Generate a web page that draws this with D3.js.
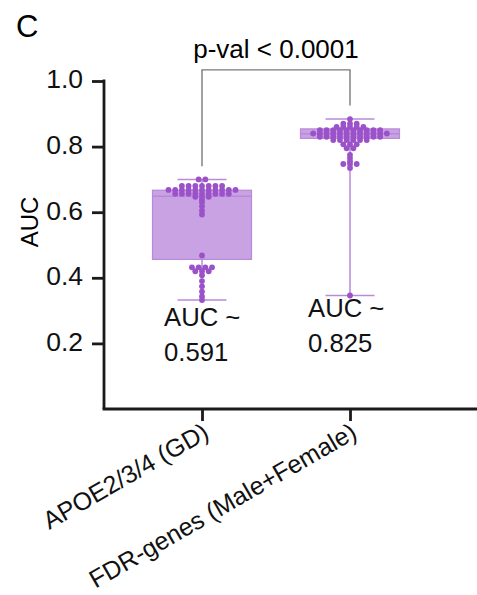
<!DOCTYPE html>
<html>
<head>
<meta charset="utf-8">
<script src="https://d3js.org/d3.v7.min.js"></script>
<style>
  body { margin: 0; background: #fff; }
  svg { display: block; font-family: "Liberation Sans", Arial, Helvetica, sans-serif; }
</style>
</head>
<body>
<svg id="chart"></svg>
<script>
// data
const categories = ["APOE2/3/4 (GD)", "FDR-genes (Male+Female)"];
const yTicks = [0.2, 0.4, 0.6, 0.8, 1.0];

const boxMin = [0.332, 0.346];
const boxQ1 = [0.456, 0.825];
const boxMedian = [0.649, 0.839];
const boxQ3 = [0.667, 0.854];
const boxMax = [0.700, 0.884];

const aucApoe = [
  0.700, 0.700,
  0.680, 0.680, 0.680, 0.680, 0.680, 0.680, 0.680,
  0.668, 0.668, 0.668, 0.668, 0.668, 0.668, 0.668, 0.668, 0.668, 0.668, 0.668,
  0.656, 0.656, 0.656, 0.656, 0.656, 0.656, 0.656, 0.656, 0.656,
  0.647, 0.647, 0.647,
  0.638, 0.630, 0.618, 0.605, 0.593,
  0.468,
  0.432, 0.432, 0.432, 0.432,
  0.420, 0.420, 0.420,
  0.408, 0.390, 0.374, 0.358, 0.343, 0.332
];
const aucFdr = [
  0.884,
  0.870, 0.870, 0.870,
  0.860, 0.860, 0.860, 0.860, 0.860,
  0.850, 0.850, 0.850, 0.850, 0.850, 0.850, 0.850, 0.850, 0.850, 0.850,
  0.840, 0.840, 0.840, 0.840, 0.840, 0.840, 0.840, 0.840, 0.840, 0.840, 0.840, 0.840,
  0.830, 0.830, 0.830, 0.830, 0.830, 0.830, 0.830, 0.830, 0.830, 0.830,
  0.820, 0.820, 0.820, 0.820, 0.820, 0.820,
  0.807, 0.807, 0.807,
  0.795, 0.795,
  0.775, 0.765, 0.755,
  0.747, 0.747, 0.747,
  0.735,
  0.346
];
const aucSummary = ["0.591", "0.825"];
const pValueText = "p-val < 0.0001";

const width = 477, height = 595;
const purpleDot = "#9b52c9";
const purpleFill = "#c8a2e3";
const purpleLine = "#b98ad9";

const svg = d3.select("#chart").attr("width", width).attr("height", height);

const x = d3.scalePoint().domain(categories).range([202, 350]);
const y = d3.scaleLinear().domain([0, 1]).range([409, 81]);

// panel letter
svg.append("text").attr("x", 16).attr("y", 37)
   .style("font-size", "31px").text("C");

// y axis
const yAxis = svg.append("g")
   .attr("transform", "translate(104,0)")
   .call(d3.axisLeft(y).tickValues(yTicks).tickFormat(d3.format(".1f")).tickSize(12).tickPadding(9).tickSizeOuter(0));
yAxis.select(".domain").remove();
yAxis.selectAll(".tick line").attr("stroke", "#1a1a1a").attr("stroke-width", 2.8);
yAxis.selectAll(".tick text").style("font-size", "26.5px").attr("fill", "#111").attr("dy", "0.26em");
svg.append("line").attr("x1", 104).attr("x2", 104).attr("y1", y(1) - 1.4).attr("y2", y(0))
   .attr("stroke", "#1a1a1a").attr("stroke-width", 2.8);

// y label
svg.append("text")
   .attr("transform", `translate(38,${y(0.57)}) rotate(-90)`)
   .attr("text-anchor", "middle")
   .style("font-size", "24px").text("AUC");

// x axis
const xAxis = svg.append("g")
   .attr("transform", `translate(0,${y(0)})`)
   .call(d3.axisBottom(x).tickSize(12).tickSizeOuter(0));
xAxis.select(".domain").remove();
xAxis.selectAll(".tick line").attr("stroke", "#1a1a1a").attr("stroke-width", 2.8);
xAxis.selectAll(".tick text")
   .attr("x", 0).attr("y", 0).attr("dy", 0)
   .attr("transform", "translate(8,28) rotate(-30)")
   .attr("text-anchor", "end")
   .attr("fill", "#111")
   .style("font-size", "25px");
svg.append("line").attr("x1", 104 - 1.4).attr("x2", width).attr("y1", y(0)).attr("y2", y(0))
   .attr("stroke", "#1a1a1a").attr("stroke-width", 2.8);

// boxes
const boxW = 99, capW = 49;
const groups = categories.map((c, i) => ({
  cat: c, min: boxMin[i], q1: boxQ1[i], med: boxMedian[i], q3: boxQ3[i], max: boxMax[i]
}));
const gBox = svg.append("g");
groups.forEach(d => {
  const cx = x(d.cat);
  gBox.append("rect")
     .attr("x", cx - boxW / 2).attr("width", boxW)
     .attr("y", y(d.q3)).attr("height", y(d.q1) - y(d.q3))
     .attr("fill", purpleFill).attr("stroke", purpleLine).attr("stroke-width", 1.2);
  gBox.append("line").attr("x1", cx - boxW / 2).attr("x2", cx + boxW / 2)
     .attr("y1", y(d.med)).attr("y2", y(d.med))
     .attr("stroke", purpleLine).attr("stroke-width", 1.5);
  [[d.q3, d.max], [d.q1, d.min]].forEach(([a, b]) => {
    gBox.append("line").attr("x1", cx).attr("x2", cx).attr("y1", y(a)).attr("y2", y(b))
       .attr("stroke", purpleLine).attr("stroke-width", 1.5);
    gBox.append("line").attr("x1", cx - capW / 2).attr("x2", cx + capW / 2)
       .attr("y1", y(b)).attr("y2", y(b))
       .attr("stroke", purpleLine).attr("stroke-width", 1.5);
  });
});

// dots, laid out in rows like a column scatter
const spacing = 6.7;
function layout(values, cat) {
  const pts = [];
  d3.groups(values, v => v).forEach(([v, arr]) => {
    const n = arr.length;
    arr.forEach((_, i) => pts.push({ cx: x(cat) + (i - (n - 1) / 2) * spacing, cy: y(v) }));
  });
  return pts;
}
const dots = layout(aucApoe, categories[0]).concat(layout(aucFdr, categories[1]));
svg.append("g").selectAll("circle").data(dots).join("circle")
   .attr("cx", d => d.cx).attr("cy", d => d.cy).attr("r", 2.9)
   .attr("fill", purpleDot);

// significance bracket
const bTop = 1.034, bLeft = 0.74, bRight = 0.925;
svg.append("path")
   .attr("d", `M${x(categories[0])},${y(bLeft)}V${y(bTop)}H${x(categories[1])}V${y(bRight)}`)
   .attr("fill", "none").attr("stroke", "#7a7a7a").attr("stroke-width", 1.4);
svg.append("text")
   .attr("x", (x(categories[0]) + x(categories[1])) / 2).attr("y", 58)
   .attr("text-anchor", "middle")
   .style("font-size", "26px").text(pValueText);

// AUC annotations
const annoPos = [[164, 326], [308, 317]];
aucSummary.forEach((s, i) => {
  const t = svg.append("text").attr("x", annoPos[i][0]).attr("y", annoPos[i][1])
     .style("font-size", "25.7px").attr("fill", "#111");
  t.append("tspan").attr("x", annoPos[i][0]).text("AUC ~");
  t.append("tspan").attr("x", annoPos[i][0]).attr("dy", 35).text(s);
});
</script>
</body>
</html>
